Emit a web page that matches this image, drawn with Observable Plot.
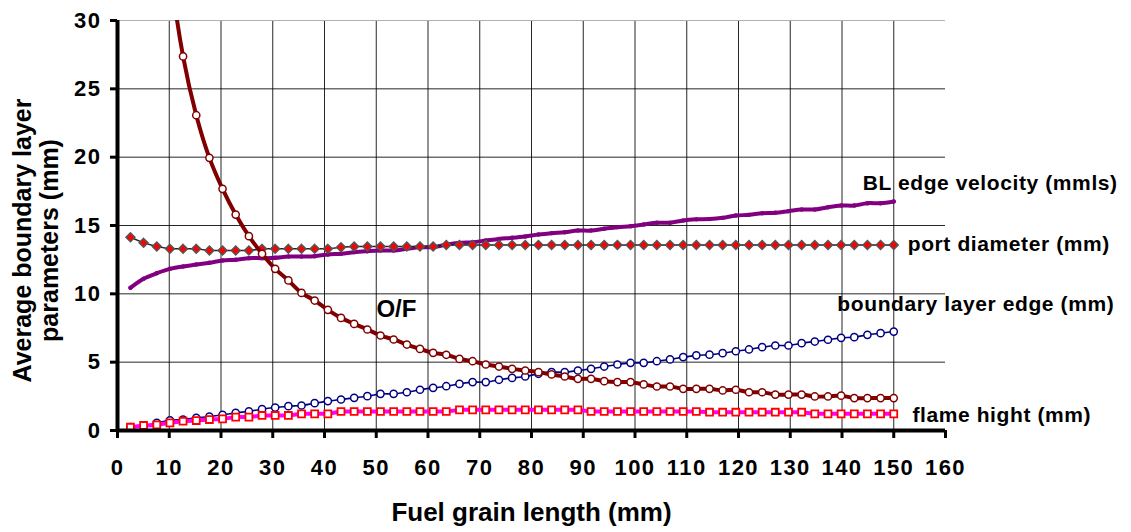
<!DOCTYPE html>
<html><head><meta charset="utf-8">
<script src="https://cdn.jsdelivr.net/npm/d3@7"></script>
<script src="https://cdn.jsdelivr.net/npm/@observablehq/plot@0.6"></script>
<style>
html,body{margin:0;padding:0;background:#fff;}
#chart svg{display:block;}
</style></head><body><div id="chart"></div>
<script>
// Fuel grain length (mm) of each computed point
const grainLength = [2.50,5.04,7.59,10.13,12.67,15.22,17.76,20.30,22.84,25.39,27.93,30.47,33.02,35.56,38.10,40.65,43.19,45.73,48.28,50.82,53.36,55.91,58.45,60.99,63.53,66.08,68.62,71.16,73.71,76.25,78.79,81.34,83.88,86.42,88.97,91.51,94.05,96.60,99.14,101.68,104.22,106.77,109.31,111.85,114.40,116.94,119.48,122.03,124.57,127.11,129.66,132.20,134.74,137.29,139.83,142.37,144.91,147.46,150.00];

// O/F (first points lie above the 30 limit of the axis)
const ofRatio = [138,68.7,45.6,34.0,27.37,23.07,19.95,17.68,15.8,14.22,12.93,11.83,10.98,10.07,9.51,8.83,8.24,7.8,7.39,6.95,6.66,6.29,5.97,5.68,5.54,5.24,5.07,4.83,4.68,4.51,4.39,4.27,4.1,3.95,3.78,3.78,3.61,3.54,3.54,3.37,3.22,3.22,3.05,3.05,3.05,2.93,2.98,2.8,2.8,2.63,2.63,2.63,2.49,2.49,2.55,2.37,2.37,2.37,2.37];

// port diameter (mm)
const portDiameter = [14.14,13.73,13.46,13.29,13.29,13.29,13.17,13.17,13.17,13.17,13.29,13.29,13.29,13.29,13.29,13.29,13.41,13.46,13.46,13.46,13.46,13.46,13.46,13.46,13.58,13.58,13.58,13.58,13.58,13.58,13.58,13.58,13.58,13.58,13.58,13.58,13.58,13.58,13.58,13.58,13.58,13.58,13.58,13.58,13.58,13.58,13.58,13.58,13.58,13.58,13.58,13.58,13.58,13.58,13.58,13.58,13.58,13.58,13.58];

// BL edge velocity (mm/s)
const blEdgeVelocity = [10.44,11.1,11.51,11.83,12.0,12.15,12.27,12.44,12.49,12.61,12.61,12.64,12.73,12.73,12.75,12.88,12.93,13.05,13.12,13.17,13.17,13.29,13.41,13.41,13.6,13.73,13.78,13.9,14.02,14.1,14.2,14.34,14.44,14.51,14.63,14.63,14.76,14.88,14.95,15.07,15.2,15.2,15.37,15.45,15.47,15.56,15.73,15.78,15.9,15.93,16.05,16.17,16.17,16.34,16.46,16.46,16.63,16.63,16.76];

// boundary layer edge (mm)
const blEdge = [0.24,0.32,0.56,0.75,0.8,0.93,1.02,1.15,1.29,1.41,1.56,1.68,1.78,1.83,2.0,2.15,2.27,2.39,2.51,2.68,2.68,2.8,2.98,3.12,3.24,3.41,3.54,3.54,3.71,3.85,3.95,4.15,4.27,4.27,4.39,4.51,4.68,4.83,4.95,4.95,5.07,5.2,5.37,5.5,5.55,5.66,5.8,5.93,6.1,6.22,6.22,6.39,6.51,6.64,6.78,6.83,7.0,7.12,7.24];

// flame hight (mm)
const flameHeight = [0.24,0.37,0.41,0.56,0.68,0.73,0.8,0.85,0.98,0.98,1.1,1.1,1.1,1.22,1.22,1.22,1.39,1.39,1.39,1.39,1.39,1.39,1.39,1.39,1.39,1.51,1.51,1.51,1.51,1.51,1.51,1.51,1.51,1.51,1.51,1.39,1.39,1.39,1.39,1.39,1.39,1.39,1.39,1.39,1.34,1.34,1.34,1.34,1.34,1.34,1.34,1.34,1.22,1.22,1.22,1.22,1.22,1.22,1.22];

const xTicks = [0,10,20,30,40,50,60,70,80,90,100,110,120,130,140,150,160];
const yTicks = [0,5,10,15,20,25,30];

const seriesNames = ["BL edge velocity (mmls)", "port diameter (mm)", "boundary layer edge (mm)", "flame hight (mm)"];
const seriesNameX = [144.0, 152.7, 139.1, 153.6];
const seriesNameY = [18.07, 13.6, 9.22, 1.1];
const ofName = "O/F";
const xTitle = "Fuel grain length (mm)";
const yTitle = "Average boundary layer\nparameters (mm)";

const rows = vals => grainLength.map((x, i) => ({x, y: vals[i]}));
const ofRows = rows(ofRatio), portRows = rows(portDiameter), velRows = rows(blEdgeVelocity),
      edgeRows = rows(blEdge), flameRows = rows(flameHeight);
const labelRows = seriesNames.map((t, i) => ({text: t, x: seriesNameX[i], y: seriesNameY[i]}));

const font = '"Liberation Sans", Arial, Helvetica, sans-serif';

const chart = Plot.plot({
  width: 1131, height: 532,
  marginLeft: 117, marginRight: 186, marginTop: 20, marginBottom: 102,
  style: {fontFamily: font, fontWeight: "bold", background: "#fff", color: "#000", overflow: "visible"},
  x: {domain: [0, 160]},
  y: {domain: [0, 30]},
  marks: [
    Plot.gridX({ticks: xTicks.filter(t => t > 0 && t < 160), stroke: "#000", strokeOpacity: 0.85}),
    Plot.gridY({ticks: yTicks.filter(t => t > 0 && t < 30), stroke: "#000", strokeOpacity: 0.85}),
    Plot.gridY({ticks: [30], stroke: "#b0b0b0", strokeOpacity: 1}),

    Plot.line(edgeRows, {x: "x", y: "y", stroke: "#000080", strokeWidth: 1.6, curve: "catmull-rom"}),
    Plot.dot(edgeRows, {x: "x", y: "y", r: 3.6, fill: "#fff", stroke: "#000080", strokeWidth: 1.5}),

    Plot.line(flameRows, {x: "x", y: "y", stroke: "#ff00ff", strokeWidth: 4}),
    Plot.dot(flameRows, {x: "x", y: "y", symbol: "square", r: 3.9, fill: "#fff", stroke: "#ff0000", strokeWidth: 1.8}),

    Plot.line(velRows, {x: "x", y: "y", stroke: "#800080", strokeWidth: 4, curve: "catmull-rom"}),
    Plot.dot(velRows, {x: "x", y: "y", r: 2.2, fill: "#800080"}),

    Plot.line(portRows, {x: "x", y: "y", stroke: "#222", strokeWidth: 1.5}),
    Plot.dot(portRows, {x: "x", y: "y", symbol: "diamond2", r: 4, fill: "#ff0000", stroke: "#555", strokeWidth: 1.5}),

    Plot.line(ofRows, {x: "x", y: "y", stroke: "#800000", strokeWidth: 4, curve: "catmull-rom", clip: true}),
    Plot.dot(ofRows, {x: "x", y: "y", r: 3.6, fill: "#fff", stroke: "#800000", strokeWidth: 1.5, clip: true}),

    Plot.ruleX([0], {stroke: "#000", strokeWidth: 4}),
    Plot.ruleY([0], {stroke: "#000", strokeWidth: 4}),
    Plot.axisX({ticks: xTicks, tickSize: 8, tickPadding: 21, strokeWidth: 3, fontSize: 22, fontWeight: "bold", fill: "#000", label: null}),
    Plot.axisY({ticks: yTicks, tickSize: 7, tickPadding: 9, strokeWidth: 3, fontSize: 22, fontWeight: "bold", fill: "#000", label: null}),

    Plot.text(labelRows, {x: "x", y: "y", text: "text", textAnchor: "start", lineAnchor: "middle", fontSize: 21, fontWeight: "bold", fill: "#000"}),
    Plot.text([ofName], {x: () => 53.9, y: () => 8.85, text: d => d, textAnchor: "middle", lineAnchor: "middle", fontSize: 24, fontWeight: "bold", fill: "#000"}),
    Plot.text([xTitle], {frameAnchor: "bottom", dy: 82, text: d => d, textAnchor: "middle", lineAnchor: "middle", fontSize: 26, fontWeight: "bold", fill: "#000"}),
    Plot.text([yTitle], {frameAnchor: "left", dx: -82, dy: 15, rotate: -90, text: d => d, textAnchor: "middle", lineAnchor: "middle", lineHeight: 1.1, fontSize: 25, fontWeight: "bold", fill: "#000"})
  ]
});
document.getElementById("chart").appendChild(chart);
d3.select(chart).selectAll("text").filter(function() { return seriesNames.includes(this.textContent); })
  .attr("letter-spacing", "0.6px");
d3.select(chart).selectAll('g[aria-label="x-axis tick label"] text, g[aria-label="y-axis tick label"] text')
  .attr("letter-spacing", "1.5px");
</script></body></html>
